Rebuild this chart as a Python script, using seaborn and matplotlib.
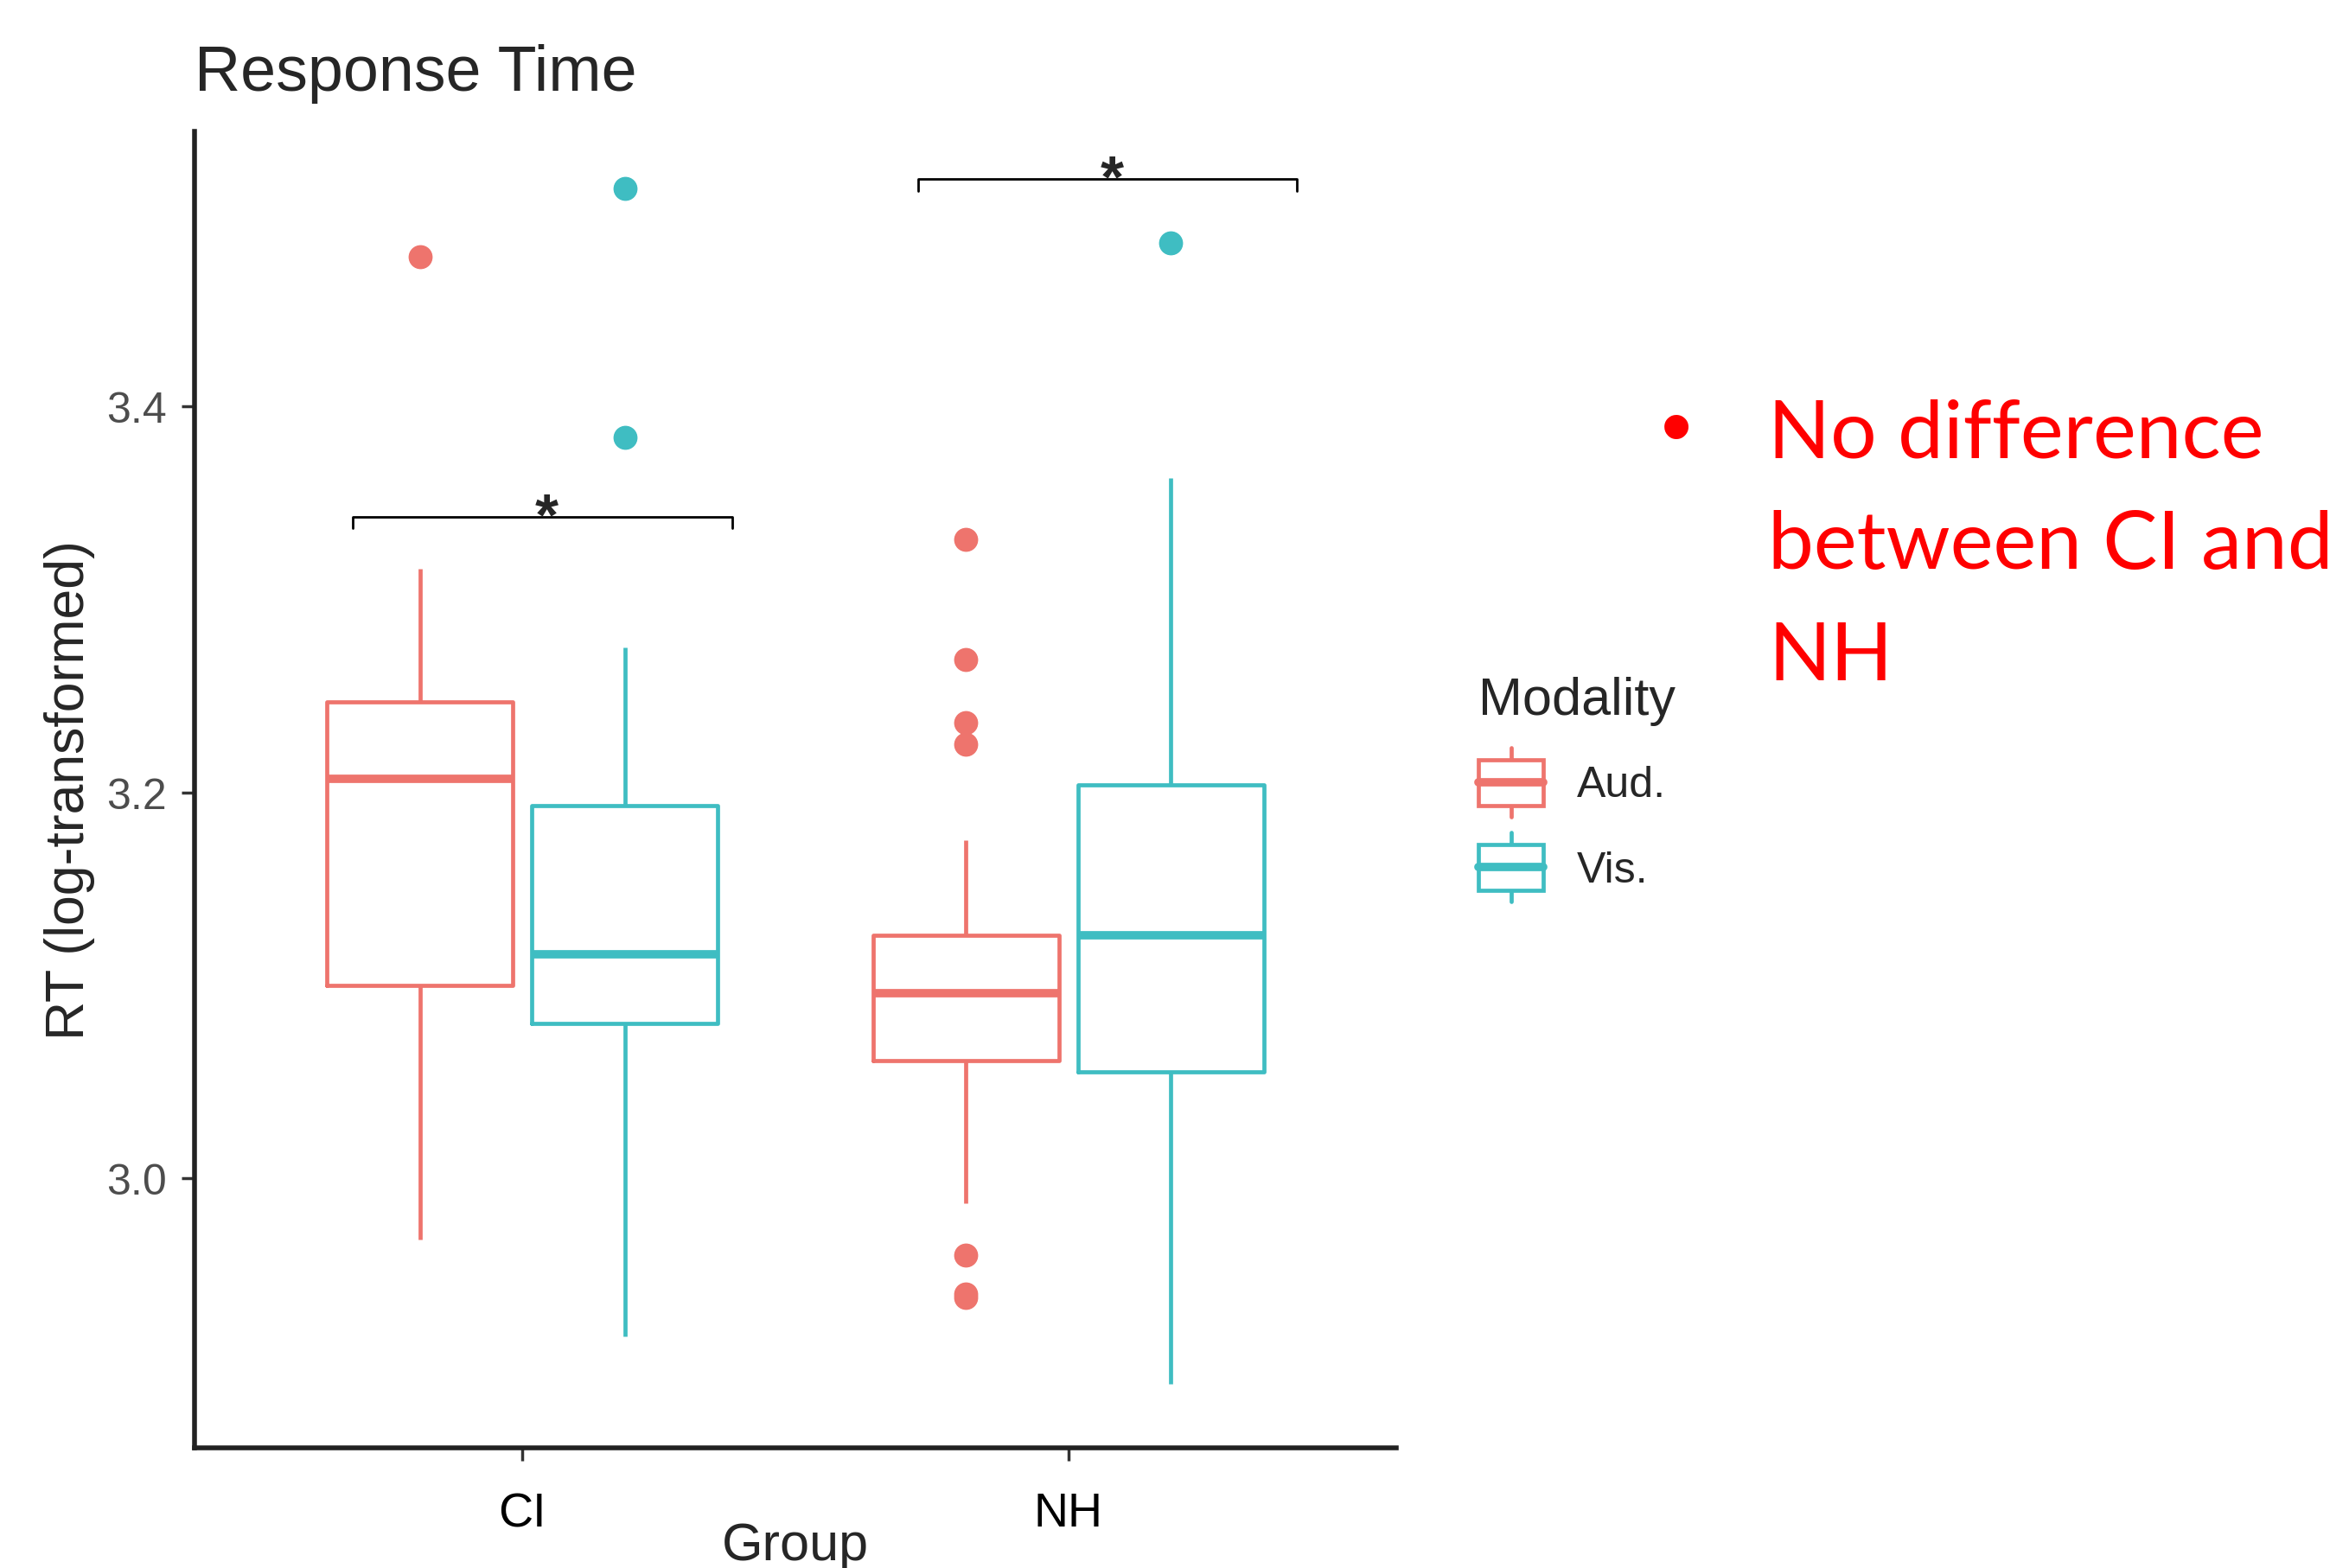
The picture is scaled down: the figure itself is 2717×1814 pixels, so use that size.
import pandas as pd
import seaborn as sns
import matplotlib.pyplot as plt
from matplotlib.patches import Rectangle
from matplotlib.lines import Line2D
from matplotlib.legend_handler import HandlerBase
from matplotlib.ticker import FormatStrFormatter

groups = ['CI', 'NH']
modalities = ['Aud.', 'Vis.']
colors = ['#EE746D', '#3FBDC2']

# RT (log-transformed) per group / modality
ci_aud = [2.968, 3.035, 3.082, 3.100, 3.142, 3.185, 3.207, 3.221, 3.236, 3.247, 3.281, 3.316, 3.478]
ci_vis = [2.918, 3.010, 3.060, 3.080, 3.095, 3.108, 3.116, 3.140, 3.170, 3.193, 3.275, 3.384, 3.513]
nh_aud = [2.938, 2.940, 2.960, 2.987, 3.030, 3.061, 3.068, 3.075, 3.083, 3.090, 3.096,
          3.101, 3.108, 3.114, 3.120, 3.126, 3.175, 3.225, 3.236, 3.269, 3.331]
nh_vis = [2.893, 2.980, 3.030, 3.055, 3.080, 3.105, 3.126, 3.150, 3.180, 3.204, 3.260, 3.363, 3.485]

# significance brackets (x start, x end, y)
brackets = [(-0.31, 0.385, 3.343), (0.725, 1.418, 3.518)]
signif = ['*', '*']

y_ticks = [3.0, 3.2, 3.4]
note_lines = ['No difference', 'between CI and', 'NH']

rows = []
for grp, mod, vals in [('CI', 'Aud.', ci_aud), ('CI', 'Vis.', ci_vis),
                       ('NH', 'Aud.', nh_aud), ('NH', 'Vis.', nh_vis)]:
    for v in vals:
        rows.append({'Group': grp, 'Modality': mod, 'RT': v})
df = pd.DataFrame(rows)


class BoxKeyHandler(HandlerBase):
    # ggplot-like legend key: box + median + whisker stubs
    def create_artists(self, legend, orig_handle, xdescent, ydescent, width, height, fontsize, trans):
        c = orig_handle.get_color()
        x0, y0 = -xdescent, -ydescent
        cx = x0 + width / 2
        yc = y0 + height / 2
        half_all, half_box = 0.8 * fontsize, 0.53 * fontsize
        box = Rectangle((x0, yc - half_box), width, 2 * half_box, facecolor='white',
                        edgecolor=c, linewidth=3.4, transform=trans)
        w1 = Line2D([cx, cx], [yc - half_all, yc - half_box], color=c, lw=3.4, transform=trans)
        w2 = Line2D([cx, cx], [yc + half_box, yc + half_all], color=c, lw=3.4, transform=trans)
        med = Line2D([x0, x0 + width], [yc, yc], color=c, lw=7, transform=trans)
        return [w1, w2, box, med]


sns.set_style('ticks')
plt.rcParams['font.family'] = ['Liberation Sans', 'DejaVu Sans']

fig = plt.figure(figsize=(27.17, 18.15), dpi=100)
ax = fig.add_axes([0.08281, 0.07658, 0.51160, 0.83939])

sns.boxplot(data=df, x='Group', y='RT', hue='Modality', order=groups, hue_order=modalities,
            palette=colors, fill=False, width=0.75, gap=0.09, linewidth=3.4,
            medianprops={'linewidth': 7}, capprops={'visible': False},
            flierprops={'marker': 'o', 'markersize': 19}, legend=False, ax=ax)

# filled outlier dots
for line in ax.lines:
    if line.get_marker() == 'o':
        line.set_markerfacecolor(line.get_markeredgecolor())

# significance brackets
tip = 0.006
for (xa, xb, yb), lab in zip(brackets, signif):
    ax.plot([xa, xa, xb, xb], [yb - tip, yb, yb, yb - tip], color='black', lw=2)
    ax.annotate(lab, xy=((xa + xb) / 2, yb), xytext=(3.5, -14), textcoords='offset points',
                ha='center', va='baseline', fontsize=50, fontweight='bold')

ax.set_xlim(-0.6, 1.6)
ax.set_ylim(2.860, 3.543)
ax.set_yticks(y_ticks)
ax.yaxis.set_major_formatter(FormatStrFormatter('%.1f'))
sns.despine(ax=ax)
for s in ['left', 'bottom']:
    ax.spines[s].set_linewidth(4)
    ax.spines[s].set_color('#222222')

ax.tick_params(axis='x', length=11, width=2.5, pad=25, labelsize=40, labelcolor='black', color='#333333')
ax.tick_params(axis='y', length=11, width=2.5, pad=12, labelsize=36, labelcolor='#4D4D4D', color='#333333')

ax.set_title('Response Time', loc='left', fontsize=53, pad=34)
ax.set_xlabel('Group', fontsize=44, va='top')
ax.xaxis.set_label_coords(0.5, -0.056)
ax.set_ylabel('RT (log-transformed)', fontsize=45, va='center')
ax.yaxis.set_label_coords(-0.1036, 0.5)

handles = [Line2D([], [], color=c) for c in colors]
fig.legend(handles, modalities, title='Modality', loc='upper left',
           bbox_to_anchor=(0.6294, 0.5686), frameon=False, borderpad=0, borderaxespad=0,
           handler_map={Line2D: BoxKeyHandler()}, fontsize=36, title_fontsize=44,
           handlelength=1.5, handleheight=1.6, labelspacing=0.68, handletextpad=0.78,
           alignment='left')

# red side note
red = '#FF0000'
fig.text(1939 / 2717, 1 - 501 / 1815, '\u2022', color=red, fontsize=74,
         ha='center', va='center', family=['Liberation Sans', 'DejaVu Sans'])
baselines = [530, 658, 787]
for txt, yb in zip(note_lines, baselines):
    fig.text(2045 / 2717, 1 - yb / 1815, txt, color=red, fontsize=68,
             ha='left', va='baseline', family=['Lato', 'DejaVu Sans'])

fig.savefig('out.png', dpi=100)
